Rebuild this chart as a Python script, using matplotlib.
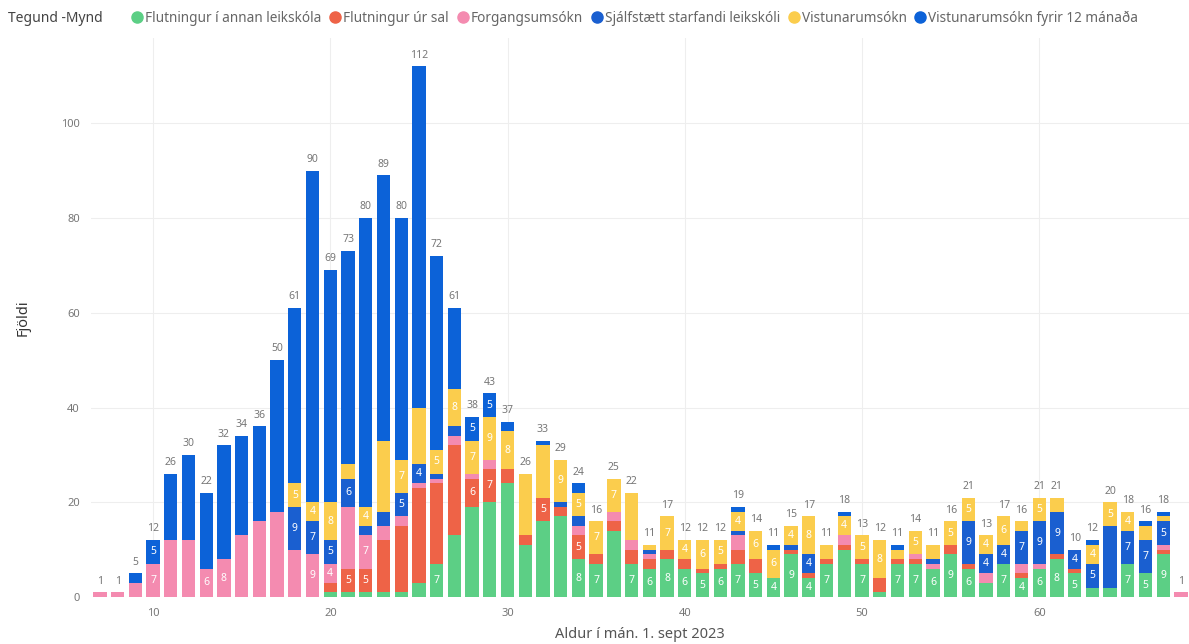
import matplotlib
matplotlib.use("Agg")
import matplotlib.pyplot as plt
import numpy as np
from matplotlib.lines import Line2D

plt.rcParams['font.family'] = ['Noto Sans', 'DejaVu Sans']

# aldur í mánuðum
aldur = list(range(7, 69))

# Flutningur í annan leikskóla
graenn = [0, 0, 0, 0, 0, 0, 0, 0, 0, 0,
          0, 0, 0, 1, 1, 1, 1, 1, 3, 7,
          13, 19, 20, 24, 11, 16, 17, 8, 7, 14,
          7, 6, 8, 6, 5, 6, 7, 5, 4, 9,
          4, 7, 10, 7, 1, 7, 7, 6, 9, 6,
          3, 7, 4, 6, 8, 5, 2, 2, 7, 5,
          9, 0]
# Flutningur úr sal
rautt = [0, 0, 0, 0, 0, 0, 0, 0, 0, 0,
         0, 0, 0, 2, 5, 5, 11, 14, 20, 17,
         19, 6, 7, 3, 2, 5, 2, 5, 2, 2,
         3, 2, 2, 2, 1, 1, 3, 3, 0, 1,
         1, 1, 1, 1, 3, 1, 1, 0, 2, 1,
         0, 0, 1, 0, 1, 1, 0, 0, 0, 0,
         1, 0]
# Forgangsumsókn
bleikt = [1, 1, 3, 7, 12, 12, 6, 8, 13, 16,
          18, 10, 9, 4, 13, 7, 3, 2, 1, 1,
          2, 1, 2, 0, 0, 0, 0, 2, 0, 2,
          2, 1, 0, 0, 0, 0, 3, 0, 0, 0,
          0, 0, 2, 0, 0, 0, 1, 1, 0, 0,
          2, 0, 2, 1, 0, 0, 0, 0, 0, 0,
          1, 1]
# Sjálfstætt starfandi leikskóli
blatt = [0, 0, 0, 0, 0, 0, 0, 0, 0, 0,
         0, 9, 7, 5, 6, 2, 3, 5, 4, 1,
         2, 0, 0, 0, 0, 0, 1, 2, 0, 0,
         0, 1, 0, 0, 0, 0, 1, 0, 0, 1,
         4, 0, 0, 0, 0, 0, 0, 1, 0, 9,
         4, 4, 7, 9, 9, 4, 5, 13, 7, 7,
         5, 0]
# Vistunarumsókn
gult = [0, 0, 0, 0, 0, 0, 0, 0, 0, 0,
        0, 5, 4, 8, 3, 4, 15, 7, 12, 5,
        8, 7, 9, 8, 13, 11, 9, 5, 7, 7,
        10, 1, 7, 4, 6, 5, 4, 6, 6, 4,
        8, 3, 4, 5, 8, 2, 5, 3, 5, 5,
        4, 6, 2, 5, 3, 0, 4, 5, 4, 3,
        1, 0]
# Vistunarumsókn fyrir 12 mánaða
dokkblatt = [0, 0, 2, 5, 14, 18, 16, 24, 21, 20,
             32, 37, 70, 49, 45, 61, 56, 51, 72, 41,
             17, 5, 5, 2, 0, 1, 0, 2, 0, 0,
             0, 0, 0, 0, 0, 0, 1, 0, 1, 0,
             0, 0, 1, 0, 0, 1, 0, 0, 0, 0,
             0, 0, 0, 0, 0, 0, 1, 0, 0, 1,
             1, 0]

flokkar = ["Flutningur í annan leikskóla", "Flutningur úr sal", "Forgangsumsókn",
           "Sjálfstætt starfandi leikskóli", "Vistunarumsókn", "Vistunarumsókn fyrir 12 mánaða"]
litir = ["#5ccf85", "#ee6347", "#f48bb0", "#1a5fd0", "#fbcd4d", "#0c62d8"]

gogn = np.array([graenn, rautt, bleikt, blatt, gult, dokkblatt])
x = np.array(aldur)

fig = plt.figure(figsize=(11.89, 6.44), dpi=100)
ax = fig.add_axes([91 / 1189, 47 / 644, 1 - 91 / 1189, 559 / 644])

botn = np.zeros(len(x))
for i in range(len(flokkar)):
    ax.bar(x, gogn[i], 0.75, bottom=botn, color=litir[i], zorder=3, linewidth=0)
    for j in range(len(x)):
        v = gogn[i][j]
        if 4 <= v <= 9:
            ax.text(x[j], botn[j] + v / 2, str(v), ha="center", va="center",
                    color="white", fontsize=7.5, zorder=4)
    botn = botn + gogn[i]

for j in range(len(x)):
    ax.text(x[j], botn[j] + 1.2, str(int(botn[j])), ha="center", va="bottom",
            color="#777777", fontsize=7.5, zorder=4)

ax.set_xlim(6.5, 68.45)
ax.set_ylim(0, 118)
ax.set_xticks([10, 20, 30, 40, 50, 60])
ax.set_yticks([0, 20, 40, 60, 80, 100])
ax.tick_params(length=0, labelsize=8, labelcolor="#777777", pad=8)
ax.grid(True, color="#eeeeee", linewidth=0.8, zorder=0)
for s in ax.spines.values():
    s.set_visible(False)
ax.set_xlabel("Aldur í mán. 1. sept 2023", fontsize=10.5, color="#555555", labelpad=6)
ax.set_ylabel("Fjöldi", fontsize=10.5, color="#333333", fontweight="bold", labelpad=22)

fig.text(8 / 1189, 1 - 18 / 644, "Tegund -Mynd", fontsize=10, fontweight="bold",
         color="#444444", va="center")
handles = [Line2D([], [], marker="o", linestyle="", markersize=8, color=c) for c in litir]
fig.legend(handles, flokkar, ncol=6, loc="center left", bbox_to_anchor=(118 / 1189, 1 - 18 / 644),
           frameon=False, fontsize=9.8, handletextpad=0.1, columnspacing=0.5,
           handlelength=1.0, labelcolor="#666666")

fig.savefig("out.png", dpi=100, facecolor="white")
